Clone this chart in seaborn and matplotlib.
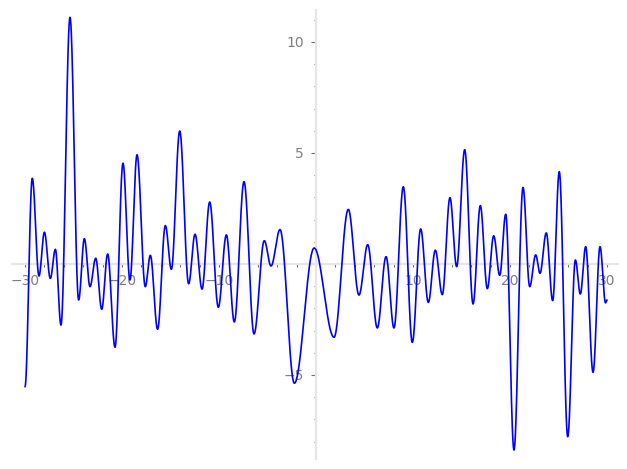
import numpy as np
import pandas as pd
import matplotlib
matplotlib.use("Agg")
import matplotlib.pyplot as plt
import seaborn as sns
from matplotlib.ticker import FixedLocator, MultipleLocator

# Local extrema of the curve (x, y)
ext_x = [-30.0, -29.25, -28.56, -28.0, -27.39, -26.87, -26.29, -25.36, -24.47, -23.88,
         -23.3, -22.71, -22.09, -21.48, -20.72, -19.9, -19.18, -18.45, -17.6, -17.08,
         -16.33, -15.53, -14.91, -14.05, -13.13, -12.47, -11.75, -10.96, -10.07, -9.24,
         -8.42, -7.42, -6.39, -5.33, -4.64, -3.71, -2.23, -0.19, 1.86, 3.33,
         4.43, 5.33, 6.32, 7.22, 8.04, 9.0, 9.93, 10.79, 11.58, 12.3,
         13.02, 13.81, 14.5, 15.33, 16.19, 16.94, 17.66, 18.32, 18.94, 19.56,
         20.41, 21.34, 22.03, 22.65, 23.09, 23.74, 24.4, 25.08, 25.95, 26.74,
         27.25, 27.8, 28.56, 29.28, 29.85, 30.0]
ext_y = [-5.53, 3.86, -0.54, 1.43, -0.65, 0.66, -2.75, 11.11, -1.62, 1.14,
         -1.02, 0.26, -2.04, 0.45, -3.75, 4.54, -0.72, 4.92, -1.02, 0.39,
         -2.94, 1.73, -0.24, 5.99, -0.89, 1.34, -1.13, 2.79, -1.95, 1.31,
         -2.61, 3.71, -3.15, 1.05, -0.09, 1.55, -5.37, 0.72, -3.30, 2.46,
         -1.40, 0.87, -2.88, 0.33, -2.88, 3.48, -3.53, 1.58, -1.73, 0.62,
         -1.38, 2.99, -0.12, 5.15, -1.80, 2.63, -1.11, 1.27, -0.51, 2.24,
         -8.38, 3.45, -1.02, 0.41, -0.42, 1.40, -1.65, 4.16, -7.78, 0.18,
         -1.35, 0.78, -4.88, 0.78, -1.75, -1.62]

x_major = [-30, -20, -10, 10, 20, 30]
x_labels = ["\u221230", "\u221220", "\u221210", "10", "20", "30"]
y_major = [-5, 5, 10]
y_labels = ["\u22125", "5", "10"]

assert len(ext_x) == len(ext_y)

# smooth half-cosine path between successive extrema
px, py = [], []
for i in range(len(ext_x) - 1):
    t = np.linspace(0, 1, 40, endpoint=False)
    s = (1 - np.cos(np.pi * t)) / 2
    px.extend(ext_x[i] + (ext_x[i + 1] - ext_x[i]) * t)
    py.extend(ext_y[i] + (ext_y[i + 1] - ext_y[i]) * s)
px.append(ext_x[-1]); py.append(ext_y[-1])
df = pd.DataFrame({"x": px, "y": py})

sns.set_style("white")
W, H = 627, 469
fig = plt.figure(figsize=(W / 100, H / 100), dpi=100)
# pixel geometry from the reference
x0px, sx = 316.0, 9.7
y0px, sy = 264.0, 22.2
L, R, T, B = 12, 618, 10, 459
ax = fig.add_axes([L / W, (H - B) / H, (R - L) / W, (B - T) / H])
sns.lineplot(data=df, x="x", y="y", sort=False, estimator=None, color="#0000ff",
             linewidth=1.2, ax=ax, zorder=3)
ax.set_xlim((L - x0px) / sx, (R - x0px) / sx)
ax.set_ylim((y0px - B) / sy, (y0px - T) / sy)
ax.set_xlabel("")
ax.set_ylabel("")

for side in ["top", "right"]:
    ax.spines[side].set_visible(False)
for side in ["left", "bottom"]:
    ax.spines[side].set_position(("data", 0))
    ax.spines[side].set_color("#e6e6e6")
    ax.spines[side].set_linewidth(1.6)
    ax.spines[side].set_zorder(1)

ax.xaxis.set_major_locator(FixedLocator(x_major))
ax.set_xticklabels(x_labels)
ax.xaxis.set_minor_locator(MultipleLocator(2))
ax.yaxis.set_major_locator(FixedLocator(y_major))
ax.set_yticklabels(y_labels)
ax.yaxis.set_minor_locator(MultipleLocator(1))

ax.tick_params(which="both", bottom=True, left=True, top=False, right=False)
ax.tick_params(axis="x", which="major", direction="out", length=2.2, width=0.8,
               color="#707070", labelsize=10, labelcolor="#808080", pad=5)
ax.tick_params(axis="x", which="minor", direction="out", length=2.2, width=0.8,
               color="#707070")
ax.tick_params(axis="y", which="major", direction="out", length=3.4, width=0.8,
               color="#707070", labelsize=10, labelcolor="#808080", pad=5.2)
ax.tick_params(axis="y", which="minor", direction="out", length=1.6, width=0.8,
               color="#707070")
ax.patch.set_alpha(0)
fig.savefig("out.png", dpi=100)
